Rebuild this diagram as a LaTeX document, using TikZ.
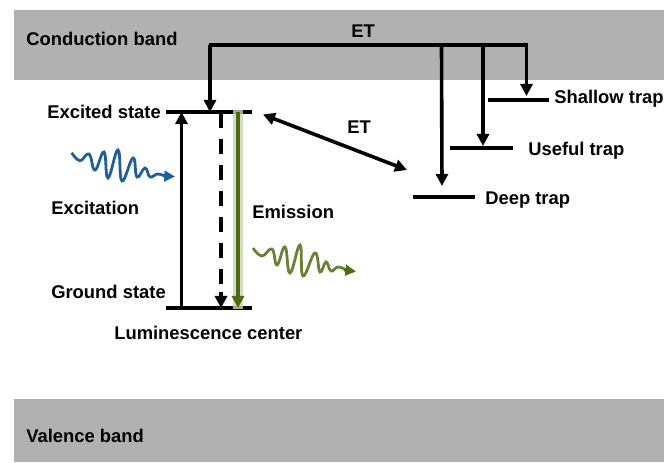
\documentclass[tikz,border=0pt]{standalone}
\usepackage{fontspec}
\setmainfont{Liberation Sans}
\usetikzlibrary{arrows.meta}
\definecolor{bandgray}{HTML}{B1B1B1}
\definecolor{emgreen}{HTML}{4F6B12}
\definecolor{exblue}{HTML}{1F5F9B}
\tikzset{
 x=0.75pt,y=-0.75pt,
 band/.style={fill=bandgray,draw=none},
 lbl/.style={font=\bfseries\fontsize{13.8}{16}\selectfont,text=black,inner sep=0pt,anchor=west},
 level/.style={line width=2.7pt,black},
 tipa/.style={-{Triangle[length=9pt,width=9pt]}},
 arr/.style={line width=2.7pt,black,tipa},
 wave/.style={line width=2.1pt,smooth,tension=0.75},
}
\begin{document}
\begin{tikzpicture}
\useasboundingbox (0,0) rectangle (664,463);
\fill[band] (14,10) rectangle (664,80);
\fill[band] (14,399) rectangle (664,462);
\node[lbl] (cb) at (26,39) {Conduction band};
\node[lbl] (vb) at (26,436) {Valence band};
\node[lbl] (ex) at (47,112) {Excited state};
\node[lbl] (gs) at (51,292) {Ground state};
\node[lbl] (ei) at (51,208) {Excitation};
\node[lbl] (em) at (252,212) {Emission};
\node[lbl] (lc) at (114,332.5) {Luminescence center};
\node[lbl] (et1) at (351,31) {ET};
\node[lbl] (et2) at (347,127) {ET};
\node[lbl] (st) at (554,99) {Shallow trap};
\node[lbl] (ut) at (528,151) {Useful trap};
\node[lbl] (dt) at (485,200) {Deep trap};
% levels
\coordinate (e1) at (166,112); \coordinate (e2) at (252,112);
\coordinate (g1) at (166,308); \coordinate (g2) at (252,308);
\draw[level] (e1) -- (e2);
\draw[level] (g1) -- (g2);
\coordinate (s1) at (488,100); \coordinate (s2) at (549,100);
\coordinate (u1) at (450,148); \coordinate (u2) at (513,148);
\coordinate (d1) at (413,197); \coordinate (d2) at (475,197);
\draw[level] (s1) -- (s2);
\draw[level] (u1) -- (u2);
\draw[level] (d1) -- (d2);
% vertical transitions
\draw[arr] (181.5,308) -- (181.5,112);
\draw[line width=2.7pt,dash pattern=on 11.3pt off 8.2pt] (221,113) -- (221,290);
\draw[arr] (221,292) -- (221,308);
\draw[line width=7pt,emgreen!30,opacity=.8] (238,110) -- (238,309);
\draw[line width=2.9pt,emgreen,tipa] (238,112) -- (238,308);
% ET network
\draw[arr] (210,45) -- (210,112);
\draw[line width=2.7pt] (208.9,45) -- (527.8,45);
\draw[arr] (526.5,45) -- (526.5,96);
\draw[arr] (483,45) -- (483,146);
\draw[arr] (441.5,45) -- (442,186);
\draw[line width=2.7pt,{Triangle[length=9pt,width=9pt]}-{Triangle[length=9pt,width=9pt]}] (263,114.5) -- (407,170);
% waves
\draw[exblue,wave] plot coordinates {(71.7,152.7) (80,160.7) (89,154) (95,170) (104,152) (108,178) (118,150) (122,181) (133,158) (137,177) (145,168) (150,177) (157,174) (165,176)};
\draw[exblue,line width=2.1pt,-{Triangle[length=8pt,width=8pt]}] (163,176) -- (175,176.5);
\draw[emgreen!85!white,wave] plot coordinates {(253,248) (262,256) (272,249) (277,265) (285,247) (290,273) (300,245) (303,276) (315,253) (320,272) (326,262) (331,271) (338,267) (346,270)};
\draw[emgreen,line width=2.1pt,-{Triangle[length=8pt,width=8pt]}] (344,270) -- (356,271.5);
\end{tikzpicture}
\end{document}
